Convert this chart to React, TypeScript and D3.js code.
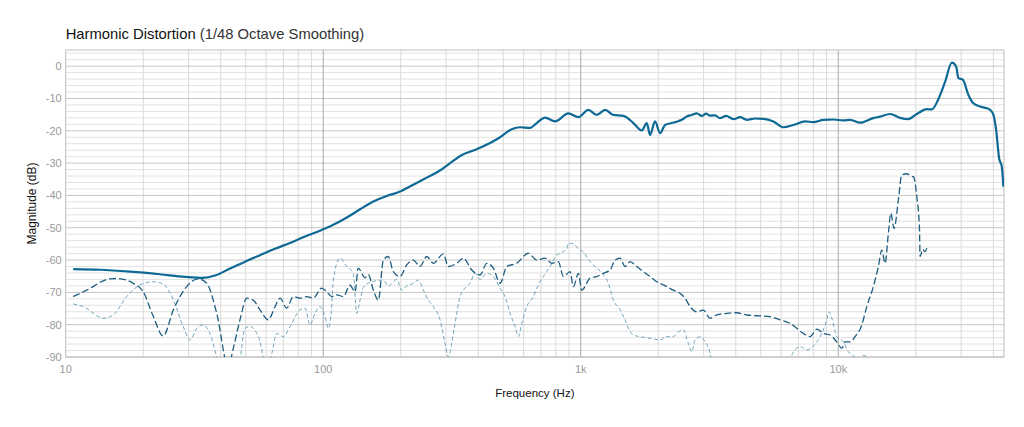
import * as d3 from "d3";
import React from "react";

// fundamental (solid)
const fundFreq = [10.7, 13.6, 17.8, 23.2, 29.1, 34.1, 38.0, 43.5, 49.7, 56.8, 65.0, 74.3, 85.0, 97.2, 109.4, 123, 139, 156.5, 176.4, 198.8, 223.8, 252.3, 284, 311, 340, 394.7, 444.5, 486, 539.5, 581, 635.6, 674.7, 726.8, 794.9, 894.8, 979, 1070, 1154, 1243, 1338, 1464, 1601, 1726, 1805, 1858, 1943, 2032, 2125, 2256, 2359, 2467, 2580, 2698, 2821, 2951, 3067, 3177, 3322, 3475, 3667, 3914, 4156, 4413, 4753, 5118, 5598, 6121, 6693, 7431, 8005, 8754, 9572, 10466, 11111, 12150, 13650, 14530, 15895, 17378, 18666, 20180, 22070, 23080, 24410, 25990, 27600, 28680, 29270, 30440, 32010, 33470, 35540, 37730, 38860, 40030, 41010, 42120, 43140, 43760];
const fundDb = [-62.8, -63.0, -63.6, -64.4, -65.2, -65.5, -64.8, -62.6, -60.5, -58.5, -56.5, -54.7, -52.7, -50.9, -49.1, -46.9, -44.3, -41.9, -40.2, -38.8, -36.7, -34.5, -32.3, -30, -27.8, -25.7, -23.8, -22, -19.5, -18.9, -19.1, -17.6, -15.9, -17.1, -14.6, -15.8, -13.5, -15.1, -13.5, -15.1, -15.4, -17.6, -19.9, -17.6, -21.3, -17.1, -20.7, -18.2, -17.6, -17.2, -16.6, -15.6, -15.1, -14.6, -15.4, -14.7, -15.3, -15.2, -16.1, -15.4, -16.4, -15.8, -16.6, -16.2, -16.3, -17.1, -18.9, -18.2, -17.1, -17.3, -16.6, -16.5, -16.8, -16.6, -17.5, -16.1, -15.6, -14.8, -16.0, -16.4, -14.8, -13.3, -13.4, -10.4, -4.8, 1.1, -0.1, -3.7, -4.2, -8.9, -11.5, -12.5, -13.0, -13.5, -15.1, -19.7, -28.5, -31, -37.3];

// 2nd harmonic (dashed)
const h2Freq = [10.7, 12.07, 14.86, 15.78, 18.3, 20.0, 21.9, 23.9, 26.2, 29.5, 32.7, 35.3, 38.6, 42.8, 44.6, 47.5, 50.5, 53.5, 56.8, 61.2, 65.0, 68.0, 72.1, 76.5, 81.3, 86.3, 91.5, 98.6, 103.2, 107.9, 112.8, 119.7, 127, 132.9, 136.8, 145.3, 149.7, 156.5, 163.7, 171.2, 178.9, 187.2, 198.8, 211, 223.8, 237.6, 252.3, 267.7, 292.7, 306, 330, 350, 377.5, 406.4, 431.4, 457.7, 486, 516, 564, 626, 674.7, 726.8, 771.7, 818.5, 855.9, 908.8, 936.1, 979, 1009, 1087, 1154, 1224, 1300, 1359, 1421, 1486, 1554, 1650, 1751, 1858, 1973, 2094, 2289, 2430, 2541, 2658, 2821, 2993, 3177, 3374, 3690, 4035, 4413, 4970, 5435, 5942, 6499, 6899, 7317, 7771, 8253, 8754, 9292, 9865, 10318, 10627, 11111, 11619, 12338, 12901, 13686, 14311, 14752, 15194, 15651, 15990, 16469, 17114, 17643, 18450, 19120, 19570, 20180, 20654, 20782, 21290, 21730, 22070];
const h2Db = [-71.3, -69.3, -65.8, -65.7, -67.2, -69.8, -77.5, -83.5, -75.4, -68.2, -65.8, -67.2, -76.5, -93, -87.8, -78.5, -71.8, -72.4, -75.4, -78.5, -74.4, -71.8, -74.9, -71.3, -71.8, -71.3, -71.8, -68.7, -69.8, -71.3, -70.8, -71.3, -67.8, -69.8, -62.5, -65.5, -64.5, -69.3, -72.4, -60, -58.9, -63.6, -65.1, -61.5, -60, -62, -58.9, -61, -58.1, -62, -61, -59.4, -63.1, -64.6, -61, -62.5, -67.2, -62, -61, -57.9, -60, -59.4, -61, -60.5, -65.1, -63.6, -68.2, -64.1, -69.3, -65.6, -65.1, -64.1, -63.1, -60, -59.4, -62, -60.5, -62, -63.6, -65.1, -66.7, -67.7, -69.3, -70.3, -71.8, -74.4, -76, -75.5, -78, -77, -76.5, -76.3, -77, -77.3, -77.5, -78.5, -79.6, -81.1, -82.7, -83.7, -81.4, -82.7, -83.2, -85.3, -87.3, -85.3, -85.3, -83.7, -80.1, -74.4, -68.2, -62, -56.9, -61, -51.7, -45.5, -50.2, -41.4, -33.7, -33.3, -34, -34.2, -40.4, -49.7, -58.9, -56.7, -57.4, -56.3];

// 3rd harmonic (thin dashed)
const h3Freq = [10.7, 11.7, 14.0, 15.3, 17.25, 19.44, 21.9, 23.9, 26.2, 28.6, 30.4, 32.3, 34.2, 36.3, 38.6, 40.5, 46.3, 49.7, 51.9, 56.0, 60.4, 63.1, 66.0, 70.0, 74.3, 81.3, 85.0, 88.9, 92.9, 97.2, 101.6, 104.7, 107.9, 109.4, 116.2, 123.4, 130.9, 134.9, 139, 143.1, 154.3, 171.2, 178.9, 192.9, 201.8, 211, 223.8, 234, 244.8, 256, 267.7, 284.2, 297.2, 306, 315.5, 325, 339.9, 355.4, 371.6, 388.6, 406.4, 431.4, 457.7, 486, 508, 531.5, 555.8, 572.4, 590, 617, 654.5, 684.5, 715.8, 760, 807, 831, 882, 895, 936, 979, 1023, 1087, 1154, 1224, 1280, 1338, 1421, 1486, 1531, 1601, 1700, 1858, 2032, 2158, 2289, 2393, 2502, 2617, 2698, 2779, 2906, 3039, 3177, 3265, 4544, 6214, 6598, 7108, 7547, 8253, 8629, 9023, 9212, 9437, 9865, 10466, 10944, 11444, 11939, 12514, 13092, 13530];
const h3Db = [-73.6, -74.4, -78, -77, -71.3, -67.7, -66.7, -67.4, -72.4, -80.6, -84.7, -81.1, -80.1, -82.7, -90, -96, -96, -81.1, -80.6, -83.7, -93, -89, -82.7, -83.7, -80.6, -75.4, -74.9, -80.1, -76.5, -74.4, -77.5, -81.1, -74, -66.2, -59.4, -62, -64.1, -76.5, -72.4, -68.5, -66.7, -66.2, -68, -66, -69.3, -68, -67.2, -66.2, -69.3, -72.4, -74.4, -78.5, -85.8, -90, -85.8, -79.6, -71.3, -68.7, -67.2, -64.1, -66, -64.1, -65.1, -68.7, -71.3, -76.5, -80.6, -83.7, -79.6, -74.4, -71.3, -67.7, -65.1, -62, -58.4, -57.9, -56.5, -54.8, -55, -56.5, -57.5, -60.5, -62.5, -64.5, -67.2, -72.4, -75.4, -78.5, -81.1, -83.2, -83.7, -84.2, -84.7, -83.7, -83.7, -82.2, -81.6, -85.8, -88.4, -84.7, -83.7, -85.3, -88.9, -95, -97, -95, -89.4, -86.8, -87.8, -85.3, -82.7, -78.5, -76, -78, -83.7, -85.3, -88.4, -89.5, -92, -89.5, -90.5, -96];

const yTicks = [0, -10, -20, -30, -40, -50, -60, -70, -80, -90];
const xTicks = [10, 100, 1000, 10000];
const xTickLabels = ["10", "100", "1k", "10k"];

const W = 1024;
const H = 427;
const left = 65.7;
const right = 1004;
const top = 50;
const bottom = 357;

export default function App() {
  const x = d3.scaleLog().domain([10, 44000]).range([left, right]);
  const y = d3.scaleLinear().domain([-90, 5]).range([bottom, top]);

  const line = d3
    .line<[number, number]>()
    .x((d) => x(d[0]))
    .y((d) => y(d[1]))
    .curve(d3.curveMonotoneX);

  const zip = (f: number[], v: number[]) => f.map((d, i) => [d, v[i]] as [number, number]);

  // minor grid
  const minorX: number[] = [];
  for (let dec = 10; dec < 44000; dec *= 10) {
    for (let k = 2; k <= 9; k++) {
      const v = dec * k;
      if (v < 44000) minorX.push(v);
    }
  }
  const minorY = d3.range(-88, 6, 2).filter((v) => v % 10 !== 0);

  const font = "'Liberation Sans', Arial, sans-serif";

  return (
    <svg width={W} height={H} style={{ position: "absolute", left: 0, top: 0 }} fontFamily={font}>
      <defs>
        <clipPath id="plot">
          <rect x={left} y={top} width={right - left} height={bottom - top} />
        </clipPath>
      </defs>
      <rect x={0} y={0} width={W} height={H} fill="#fff" />

      {/* title */}
      <text x={left} y={39} fontSize={14.8} fill="#111">
        <tspan>Harmonic Distortion</tspan>
        <tspan fill="#333"> (1/48 Octave Smoothing)</tspan>
      </text>

      {/* grid */}
      <g>
        {minorY.map((v) => (
          <line key={"my" + v} x1={left} x2={right} y1={y(v)} y2={y(v)} stroke="#e2e2e2" strokeWidth={1} />
        ))}
        {minorX.map((v) => (
          <line key={"mx" + v} x1={x(v)} x2={x(v)} y1={top} y2={bottom} stroke="#dadada" strokeWidth={1} />
        ))}
        {yTicks.map((v) => (
          <line key={"y" + v} x1={left} x2={right} y1={y(v)} y2={y(v)} stroke="#c6c6c6" strokeWidth={1} />
        ))}
        {xTicks.slice(1).map((v) => (
          <line key={"x" + v} x1={x(v)} x2={x(v)} y1={top} y2={bottom} stroke="#aaaaaa" strokeWidth={1} />
        ))}
        <rect x={left} y={top} width={right - left} height={bottom - top} fill="none" stroke="#bdbdbd" strokeWidth={1} />
      </g>

      {/* tick labels */}
      {yTicks.map((v) => (
        <text key={"yl" + v} x={left - 4} y={y(v) + 4} textAnchor="end" fontSize={11} fill="#9a9a9a">
          {v}
        </text>
      ))}
      {xTicks.map((v, i) => (
        <text key={"xl" + v} x={x(v)} y={373} textAnchor="middle" fontSize={11} fill="#9a9a9a">
          {xTickLabels[i]}
        </text>
      ))}

      <text x={(left + right) / 2} y={397} textAnchor="middle" fontSize={11.5} fill="#111">
        Frequency (Hz)
      </text>
      <text transform={`translate(36, ${(top + bottom) / 2}) rotate(-90)`} textAnchor="middle" fontSize={12} fill="#111">
        Magnitude (dB)
      </text>

      {/* curves */}
      <g clipPath="url(#plot)" fill="none">
        <path d={line(zip(h3Freq, h3Db)) || ""} stroke="#5290ae" strokeWidth={0.8} strokeDasharray="4,2.5" />
        <path d={line(zip(h2Freq, h2Db)) || ""} stroke="#1d5e80" strokeWidth={1.3} strokeDasharray="7,3" />
        <path d={line(zip(fundFreq, fundDb)) || ""} stroke="#0e6a95" strokeWidth={2.2} />
      </g>
    </svg>
  );
}
